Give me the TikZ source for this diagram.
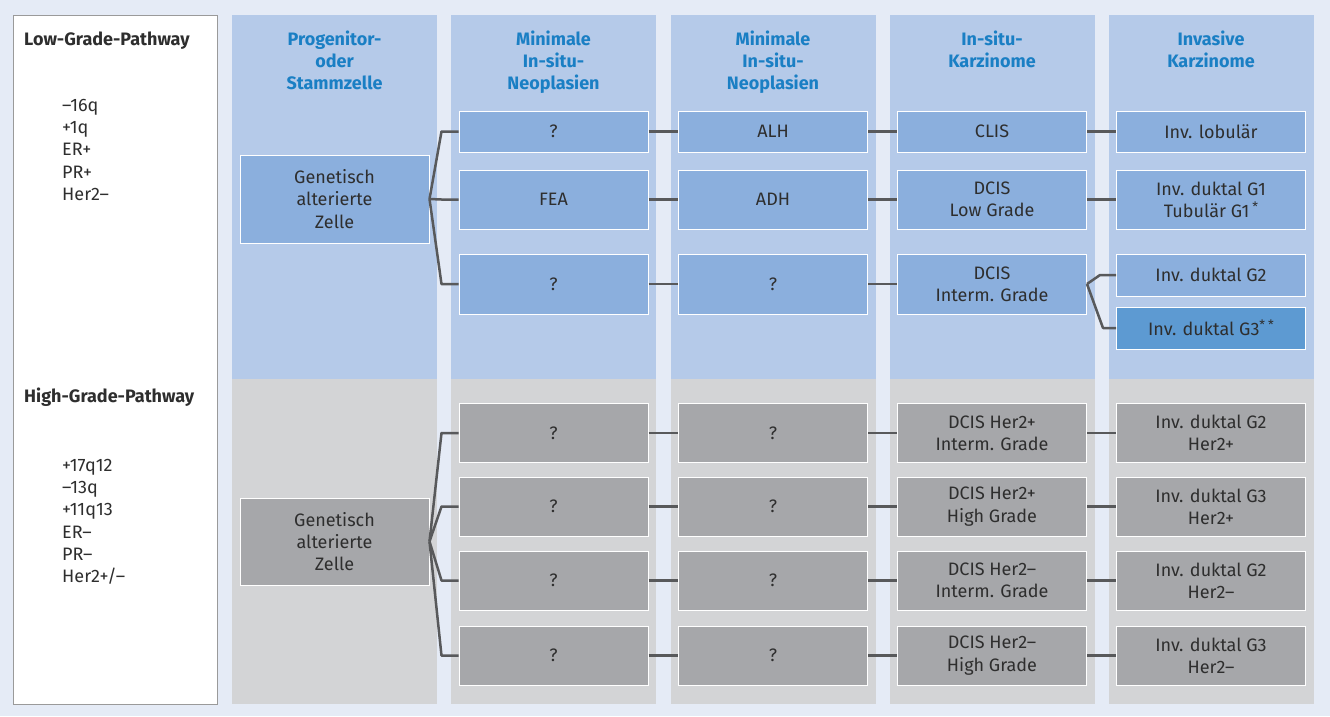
\documentclass[tikz,border=0pt]{standalone}
\usepackage{fontspec}
\setmainfont{Fira Sans}
\definecolor{bgc}{HTML}{E5EBF6}
\definecolor{colblue}{HTML}{B5CAE9}
\definecolor{boxblue}{HTML}{8BAFDD}
\definecolor{boxdark}{HTML}{5D9AD2}
\definecolor{colgrey}{HTML}{D3D4D6}
\definecolor{boxgrey}{HTML}{A6A7AA}
\definecolor{headc}{HTML}{1A7FC4}
\definecolor{txtc}{HTML}{2E2E2E}
\definecolor{linec}{HTML}{58595B}
\definecolor{panelbd}{HTML}{9A9A9A}
\newcommand{\myast}{\raisebox{0.32em}{\fontsize{13}{13}\selectfont *}}
\tikzset{
  bx/.style={rectangle, draw=white, line width=1pt, inner sep=0pt, minimum width=189pt, align=center, text=txtc, font=\fontsize{18}{22.2}\selectfont},
  lowbox/.style={bx, fill=boxblue},
  darkbox/.style={bx, fill=boxdark},
  highbox/.style={bx, fill=boxgrey},
  hdr/.style={anchor=north, inner sep=0pt, align=center, text=headc, font=\fontsize{18}{22}\selectfont\bfseries},
  conn/.style={draw=linec, line width=2.5pt},
  lbl/.style={inner sep=0pt, text=txtc, font=\fontsize{18}{22.2}\selectfont}
}
\begin{document}
\begin{tikzpicture}[x=1pt,y=-1pt]
\useasboundingbox (0,0) rectangle (1330,716);
\fill[bgc] (0,0) rectangle (1330,716);
% left panel
\draw[fill=white, draw=panelbd, line width=1pt] (13,15) rectangle (217,704);
% columns
\foreach \cx in {232,451,671,890,1109}{
  \fill[colblue] (\cx,15) rectangle ++(205,364);
  \fill[colgrey] (\cx,379) rectangle ++(205,325);
}
% left panel texts
\node[lbl, anchor=base west, font=\fontsize{18}{22}\selectfont\bfseries] (lgp) at (24,45) {Low-Grade-Pathway};
\node[lbl, anchor=north west, align=left] (lgl) at (62,99) {–16q\\+1q\\ER+\\PR+\\Her2–};
\node[lbl, anchor=base west, font=\fontsize{18}{22}\selectfont\bfseries] (hgp) at (24,402) {High-Grade-Pathway};
\node[lbl, anchor=north west, align=left] (hgl) at (62,459) {+17q12\\–13q\\+11q13\\ER–\\PR–\\Her2+/–};
% headers
\node[hdr] (h1) at (334.5,31) {Progenitor-\\oder\\Stammzelle};
\node[hdr] (h2) at (553.5,31) {Minimale\\In-situ-\\Neoplasien};
\node[hdr] (h3) at (773,31) {Minimale\\In-situ-\\Neoplasien};
\node[hdr] (h4) at (992,31) {In-situ-\\Karzinome};
\node[hdr] (h5) at (1211,31) {Invasive\\Karzinome};
% low grade boxes
\node[lowbox, minimum height=88pt] (gL) at (334.5,199) {Genetisch\\alterierte\\Zelle};
\node[lowbox, minimum height=41pt] (a1) at (553.5,131.5) {?};
\node[lowbox, minimum height=41pt] (b1) at (773,131.5) {ALH};
\node[lowbox, minimum height=41pt] (c1) at (992,131.5) {CLIS};
\node[lowbox, minimum height=41pt] (d1) at (1211,131.5) {Inv. lobulär};
\node[lowbox, minimum height=59pt] (a2) at (553.5,199.5) {FEA};
\node[lowbox, minimum height=59pt] (b2) at (773,199.5) {ADH};
\node[lowbox, minimum height=59pt] (c2) at (992,199.5) {DCIS\\Low Grade};
\node[lowbox, minimum height=59pt] (d2) at (1211,199.5) {Inv. duktal G1\\Tubulär G1\,\myast};
\node[lowbox, minimum height=60pt] (a3) at (553.5,284) {?};
\node[lowbox, minimum height=60pt] (b3) at (773,284) {?};
\node[lowbox, minimum height=60pt] (c3) at (992,284) {DCIS\\Interm. Grade};
\node[lowbox, minimum height=42pt] (d3) at (1211,275) {Inv. duktal G2};
\node[darkbox, minimum height=42pt] (d4) at (1211,328) {Inv. duktal G3\myast\,\myast};
% high grade boxes
\node[highbox, minimum height=87pt] (gH) at (334.5,541.5) {Genetisch\\alterierte\\Zelle};
\node[highbox, minimum height=59pt] (p1) at (553.5,433) {?};
\node[highbox, minimum height=59pt] (q1) at (773,433) {?};
\node[highbox, minimum height=59pt] (r1) at (992,433) {DCIS Her2+\\Interm. Grade};
\node[highbox, minimum height=59pt] (s1) at (1211,433) {Inv. duktal G2\\Her2+};
\node[highbox, minimum height=59pt] (p2) at (553.5,506.5) {?};
\node[highbox, minimum height=59pt] (q2) at (773,506.5) {?};
\node[highbox, minimum height=59pt] (r2) at (992,506.5) {DCIS Her2+\\High Grade};
\node[highbox, minimum height=59pt] (s2) at (1211,506.5) {Inv. duktal G3\\Her2+};
\node[highbox, minimum height=59pt] (p3) at (553.5,580.5) {?};
\node[highbox, minimum height=59pt] (q3) at (773,580.5) {?};
\node[highbox, minimum height=59pt] (r3) at (992,580.5) {DCIS Her2–\\Interm. Grade};
\node[highbox, minimum height=59pt] (s3) at (1211,580.5) {Inv. duktal G2\\Her2–};
\node[highbox, minimum height=59pt] (p4) at (553.5,655.5) {?};
\node[highbox, minimum height=59pt] (q4) at (773,655.5) {?};
\node[highbox, minimum height=59pt] (r4) at (992,655.5) {DCIS Her2–\\High Grade};
\node[highbox, minimum height=59pt] (s4) at (1211,655.5) {Inv. duktal G3\\Her2–};
% connectors low grade
\foreach \t in {a1,a2,a3}{
  \draw[conn, line join=round] (gL.east) -- ([xshift=-17pt]\t.west) -- (\t.west);
}
\foreach \u/\v in {a1/b1,b1/c1,c1/d1,a2/b2,b2/c2,c2/d2,a3/b3,b3/c3}{
  \draw[conn] (\u.east) -- (\v.west);
}
\draw[conn, line join=round] (c3.east) -- ([xshift=-16pt]d3.west) -- (d3.west);
\draw[conn, line join=round] (c3.east) -- ([xshift=-13pt]d4.west) -- (d4.west);
% connectors high grade
\foreach \t in {p1,p2,p3,p4}{
  \draw[conn, line join=round] (gH.east) -- ([xshift=-17pt]\t.west) -- (\t.west);
}
\foreach \u/\v in {p1/q1,q1/r1,r1/s1,p2/q2,q2/r2,r2/s2,p3/q3,q3/r3,r3/s3,p4/q4,q4/r4,r4/s4}{
  \draw[conn] (\u.east) -- (\v.west);
}
\end{tikzpicture}
\end{document}
